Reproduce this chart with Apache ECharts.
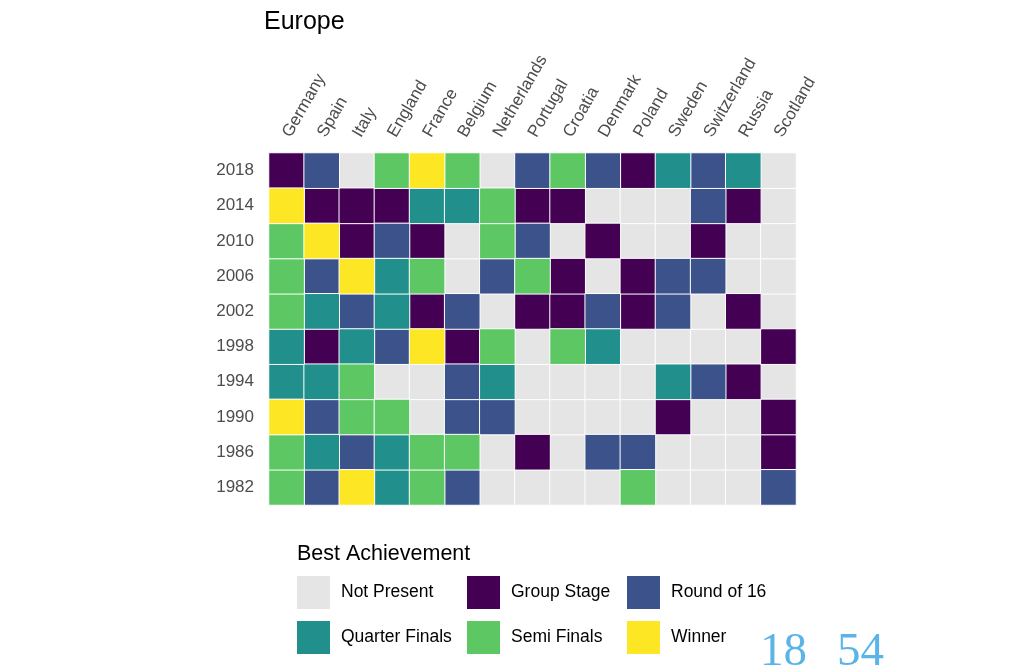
<!DOCTYPE html>
<html>
<head>
<meta charset="utf-8">
<script src="https://cdn.jsdelivr.net/npm/echarts@6/dist/echarts.min.js"></script>
<style>
html,body{margin:0;padding:0;background:#fff;}
#chart{width:1015px;height:670px;}
</style>
</head>
<body>
<div id="chart"></div>
<script>
const countries = ['Germany','Spain','Italy','England','France','Belgium','Netherlands','Portugal','Croatia','Denmark','Poland','Sweden','Switzerland','Russia','Scotland'];
const years = ['1982','1986','1990','1994','1998','2002','2006','2010','2014','2018'];
const levels = ['Not Present','Group Stage','Round of 16','Quarter Finals','Semi Finals','Winner'];
const levelColors = ['#e5e5e5','#440154','#3b528b','#21908c','#5dc863','#fde725'];

// 0 Not Present, 1 Group Stage, 2 Round of 16, 3 Quarter Finals, 4 Semi Finals, 5 Winner
const r2018 = [1,2,0,4,5,4,0,2,4,2,1,3,2,3,0];
const r2014 = [5,1,1,1,3,3,4,1,1,0,0,0,2,1,0];
const r2010 = [4,5,1,2,1,0,4,2,0,1,0,0,1,0,0];
const r2006 = [4,2,5,3,4,0,2,4,1,0,1,2,2,0,0];
const r2002 = [4,3,2,3,1,2,0,1,1,2,1,2,0,1,0];
const r1998 = [3,1,3,2,5,1,4,0,4,3,0,0,0,0,1];
const r1994 = [3,3,4,0,0,2,3,0,0,0,0,3,2,1,0];
const r1990 = [5,2,4,4,0,2,2,0,0,0,0,1,0,0,1];
const r1986 = [4,3,2,3,4,4,0,1,0,2,2,0,0,0,1];
const r1982 = [4,2,5,3,4,2,0,0,0,0,4,0,0,0,2];

const rowsByYear = {'1982':r1982,'1986':r1986,'1990':r1990,'1994':r1994,'1998':r1998,'2002':r2002,'2006':r2006,'2010':r2010,'2014':r2014,'2018':r2018};

const FONT = '"Liberation Sans", Arial, sans-serif';

const series = levels.map((name, L) => {
  const data = [];
  years.forEach(y => {
    rowsByYear[y].forEach((v, xi) => {
      if (v === L) data.push([xi, y, v]);
    });
  });
  return {
    name: name,
    type: 'heatmap',
    data: data,
    itemStyle: {color: levelColors[L], borderColor: '#ffffff', borderWidth: 1},
    emphasis: {disabled: true},
    animation: false
  };
});

function legendCol(names, left) {
  return {
    data: names,
    orient: 'vertical',
    left: left,
    top: 576,
    padding: 0,
    itemWidth: 33,
    itemHeight: 33,
    itemGap: 12,
    icon: 'rect',
    selectedMode: false,
    itemStyle: {borderWidth: 0},
    textStyle: {fontFamily: FONT, fontSize: 17.5, color: '#000', padding: [0,0,0,6]}
  };
}

const chart = echarts.init(document.getElementById('chart'), null, {renderer: 'canvas'});
chart.setOption({
  backgroundColor: '#ffffff',
  animation: false,
  title: [
    {text: 'Europe', left: 264, top: 10, padding: 0,
     textStyle: {fontFamily: FONT, fontSize: 25, fontWeight: 'normal', color: '#000'}},
    {text: 'Best Achievement', left: 297, top: 543, padding: 0,
     textStyle: {fontFamily: FONT, fontSize: 21.5, fontWeight: 'normal', color: '#000'}}
  ],
  legend: [
    legendCol([levels[0], levels[3]], 297),
    legendCol([levels[1], levels[4]], 467),
    legendCol([levels[2], levels[5]], 627)
  ],
  grid: {left: 269, top: 153, width: 527, height: 352, containLabel: false},
  xAxis: {
    type: 'category',
    position: 'top',
    data: countries,
    axisLine: {show: false},
    axisTick: {show: false},
    splitLine: {show: false},
    axisLabel: {rotate: -60, margin: 17, interval: 0, fontFamily: FONT, fontSize: 17, color: '#4d4d4d'}
  },
  yAxis: {
    type: 'category',
    data: years,
    axisLine: {show: false},
    axisTick: {show: false},
    splitLine: {show: false},
    axisLabel: {margin: 15, fontFamily: FONT, fontSize: 17, color: '#4d4d4d'}
  },
  graphic: [
    {type: 'text', x: 760, y: 653, silent: true,
     style: {text: '18', font: '47px "Liberation Serif", "Times New Roman", serif', fill: '#5ab4e8', verticalAlign: 'middle', align: 'left'}},
    {type: 'text', x: 837, y: 653, silent: true,
     style: {text: '54', font: '47px "Liberation Serif", "Times New Roman", serif', fill: '#5ab4e8', verticalAlign: 'middle', align: 'left'}}
  ],
  series: series
});
</script>
</body>
</html>
